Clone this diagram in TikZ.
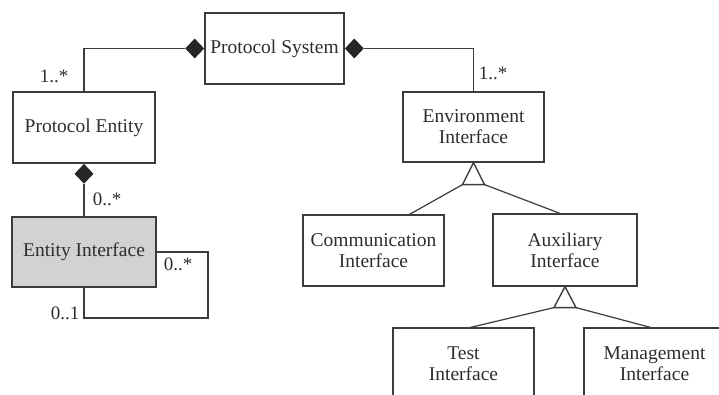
\documentclass[tikz,border=0pt]{standalone}
\usepackage{fontspec}
\setmainfont{Liberation Serif}
\usetikzlibrary{shapes.geometric,calc}
\definecolor{ln}{HTML}{3C3C3C}
\definecolor{tx}{HTML}{2E2E2E}
\definecolor{gfill}{HTML}{D2D2D2}
\begin{document}
\begin{tikzpicture}[x=1pt,y=-1pt,
  cls/.style={draw=ln, line width=1.2pt, minimum width=142pt, minimum height=71pt,
    inner sep=0pt, align=center, text=tx, font=\fontsize{19.5}{21}\selectfont},
  comp/.style={shape=diamond, fill=black!85, minimum width=19pt, minimum height=20pt, inner sep=0pt},
  conn/.style={draw=ln, line width=1.2pt},
  gen/.style={draw=ln, line width=1.4pt, fill=white, line join=miter},
  mult/.style={text=tx, font=\fontsize{19}{20}\selectfont, inner sep=0pt}]
\useasboundingbox (0,0) rectangle (719,395);
\fill[white] (0,0) rectangle (719,395);

% classes
\node[cls, minimum width=139pt] (ps) at (274.5,48.5) {Protocol System};
\node[cls] (pe) at (84,127.5) {Protocol Entity};
\node[cls, fill=gfill, minimum width=144pt, minimum height=70pt] (ei) at (84,252) {Entity Interface};
\node[cls, minimum width=141pt, minimum height=70pt] (env) at (473.5,127) {Environment\\Interface};
\node[cls, minimum width=141pt] (comm) at (373.5,250.5) {Communication\\Interface};
\node[cls, minimum width=144pt, minimum height=72pt] (aux) at (565,250) {Auxiliary\\Interface};
\node[cls, minimum width=141pt] (test) at (463.5,363.5) {Test\\Interface};
\node[cls, minimum width=141pt] (mgmt) at (654.5,363.5) {Management\\Interface};

% compositions
\node[comp, anchor=east] (d1) at (ps.west) {};
\node[comp, anchor=west] (d2) at (ps.east) {};
\node[comp, anchor=north] (d3) at (pe.south) {};
\draw[conn] (d1.west) -| (pe.north);
\draw[conn] (d2.east) -| (env.north);
\draw[conn] (d3.south) -- (ei.north);

% self association
\coordinate (lp) at (208,318);
\draw[conn] (ei.east) -| (lp) -| (ei.south);

% generalisations
\coordinate (t1) at ($(env.south)+(0,22)$);
\draw[gen] (env.south) -- ($(t1)+(-11,0)$) coordinate (t1l) -- ($(t1)+(11,0)$) coordinate (t1r) -- cycle;
\draw[conn] (t1l) -- ($(comm.north)+(36,0)$);
\draw[conn] (t1r) -- ($(aux.north)+(-5,0)$);

\coordinate (t2) at ($(aux.south)+(0,21)$);
\draw[gen] (aux.south) -- ($(t2)+(-11,0)$) coordinate (t2l) -- ($(t2)+(11,0)$) coordinate (t2r) -- cycle;
\draw[conn] (t2l) -- ($(test.north)+(7,0)$);
\draw[conn] (t2r) -- ($(mgmt.north)+(-4,0)$);

% multiplicities
\node[mult] (m1) at (54,76) {1..*};
\node[mult] (m2) at (107,199) {0..*};
\node[mult] (m3) at (178,264) {0..*};
\node[mult] (m4) at (65,313) {0..1};
\node[mult] (m5) at (493,73) {1..*};
\end{tikzpicture}
\end{document}
